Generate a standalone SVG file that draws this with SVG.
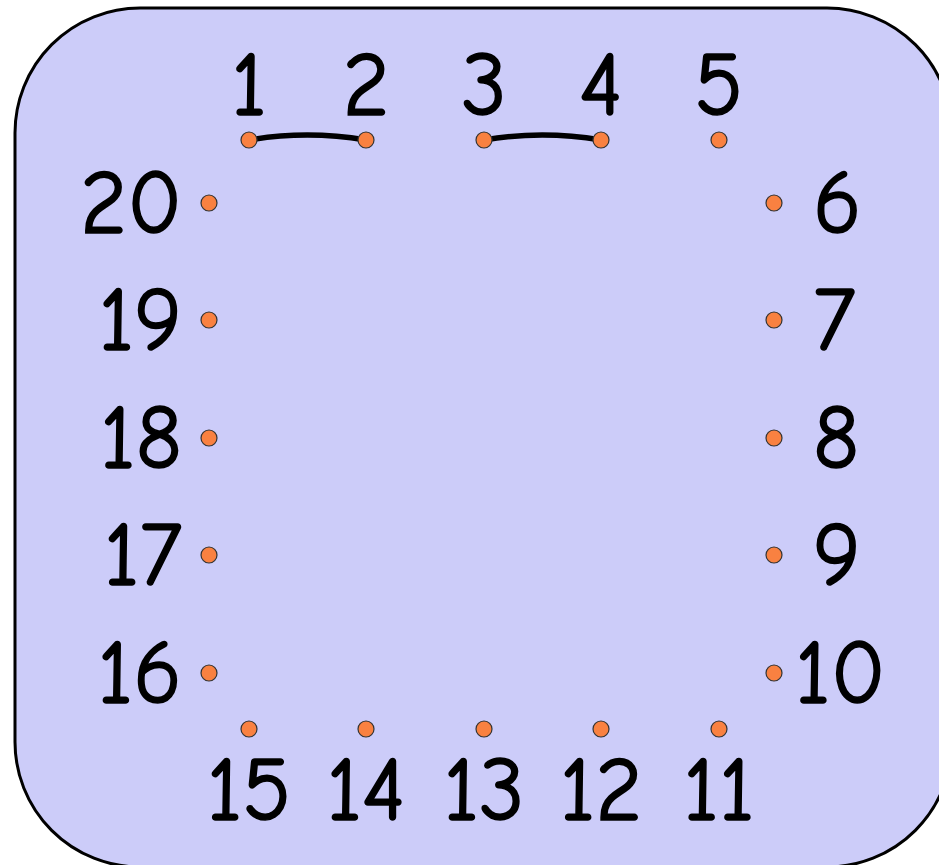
<svg xmlns="http://www.w3.org/2000/svg" width="939" height="865" viewBox="0 0 939 865">
<style>
.lbl{font-family:"Comic Neue","Comic Sans MS","Liberation Sans",sans-serif;font-size:90px;fill:#000;stroke:#000;stroke-width:1.6}
.dot{fill:#F98141;stroke:#333;stroke-width:1.2}
.link{fill:none;stroke:#000;stroke-width:5.5;stroke-linecap:butt}
.m{text-anchor:middle}
.e{text-anchor:end}
</style>
<rect id="board" x="15" y="8" width="937" height="859" rx="125" ry="125" fill="#CCCCF9" stroke="#000" stroke-width="3"/>
<g id="connectors">
<path class="link" d="M249,140 Q307,130 366,140"/>
<path class="link" d="M484,140 Q542,130 601,140"/>
</g>
<g id="n1"><circle class="dot" cx="249" cy="140" r="8"/><text class="lbl m" x="249" y="115">1</text></g>
<g id="n2"><circle class="dot" cx="366" cy="140" r="8"/><text class="lbl m" x="366" y="115">2</text></g>
<g id="n3"><circle class="dot" cx="484" cy="140" r="8"/><text class="lbl m" x="484" y="115">3</text></g>
<g id="n4"><circle class="dot" cx="601" cy="140" r="8"/><text class="lbl m" x="601" y="115">4</text></g>
<g id="n5"><circle class="dot" cx="719" cy="140" r="8"/><text class="lbl m" x="719" y="115">5</text></g>
<g id="n6"><circle class="dot" cx="774" cy="203" r="8"/><text class="lbl" x="813" y="233">6</text></g>
<g id="n7"><circle class="dot" cx="774" cy="320" r="8"/><text class="lbl" x="813" y="350">7</text></g>
<g id="n8"><circle class="dot" cx="774" cy="438" r="8"/><text class="lbl" x="813" y="468">8</text></g>
<g id="n9"><circle class="dot" cx="774" cy="555" r="8"/><text class="lbl" x="813" y="585">9</text></g>
<g id="n10"><circle class="dot" cx="774" cy="673" r="8"/><text class="lbl" x="795" y="703">10</text></g>
<g id="n11"><circle class="dot" cx="719" cy="729" r="8"/><text class="lbl m" x="719" y="820">11</text></g>
<g id="n12"><circle class="dot" cx="601" cy="729" r="8"/><text class="lbl m" x="601" y="820">12</text></g>
<g id="n13"><circle class="dot" cx="484" cy="729" r="8"/><text class="lbl m" x="484" y="820">13</text></g>
<g id="n14"><circle class="dot" cx="366" cy="729" r="8"/><text class="lbl m" x="366" y="820">14</text></g>
<g id="n15"><circle class="dot" cx="249" cy="729" r="8"/><text class="lbl m" x="249" y="820">15</text></g>
<g id="n16"><circle class="dot" cx="209" cy="673" r="8"/><text class="lbl e" x="182" y="703">16</text></g>
<g id="n17"><circle class="dot" cx="209" cy="555" r="8"/><text class="lbl e" x="182" y="585">17</text></g>
<g id="n18"><circle class="dot" cx="209" cy="438" r="8"/><text class="lbl e" x="182" y="468">18</text></g>
<g id="n19"><circle class="dot" cx="209" cy="320" r="8"/><text class="lbl e" x="182" y="350">19</text></g>
<g id="n20"><circle class="dot" cx="209" cy="203" r="8"/><text class="lbl e" x="182" y="233">20</text></g>
</svg>
